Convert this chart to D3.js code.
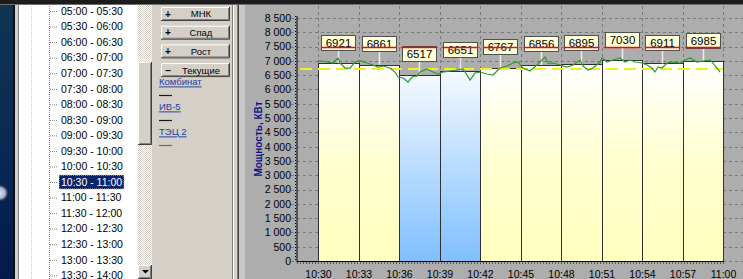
<!DOCTYPE html>
<html>
<head>
<meta charset="UTF-8">
<title>Мощность</title>
<script src="https://d3js.org/d3.v7.min.js"></script>
<style>
  body { margin: 0; background: #d4d0c8; overflow: hidden; }
  svg { display: block; font-family: "Liberation Sans", Arial, sans-serif; }
</style>
</head>
<body>
<div id="screen"></div>
<script>

// --- data ---
var intervals = ["05:00 - 05:30", "05:30 - 06:00", "06:00 - 06:30", "06:30 - 07:00",
  "07:00 - 07:30", "07:30 - 08:00", "08:00 - 08:30", "08:30 - 09:00", "09:00 - 09:30",
  "09:30 - 10:00", "10:00 - 10:30", "10:30 - 11:00", "11:00 - 11:30", "11:30 - 12:00",
  "12:00 - 12:30", "12:30 - 13:00", "13:00 - 13:30", "13:30 - 14:00"];
var selectedInterval = "10:30 - 11:00";

var buttonSigns = ["+", "+", "+", "\u2013"];
var buttonNames = ["МНК", "Спад", "Рост", "Текущие"];
var sources = ["Комбинат", "ИВ-5", "ТЭЦ 2"];
var sourceLines = ["#1a1a1a", "#1a1a1a", "#6a6a6a"];

var barStarts = ["10:30", "10:33", "10:36", "10:39", "10:42", "10:45", "10:48", "10:51", "10:54", "10:57"];
var barValues = [6921, 6861, 6517, 6651, 6767, 6856, 6895, 7030, 6911, 6985];
var planValue = 6720;   // yellow dashed
var limitValue = 7500;  // red
var yMax = 8500;

// current power, minutes after 10:30
var powerMinutes = [0, 0.67, 1.11, 1.48, 1.63, 2.0, 2.37, 2.74, 3.11, 3.63, 4.07, 4.44, 4.81,
  5.33, 5.70, 5.93, 6.30, 6.67, 6.96, 7.33, 7.56, 8.07, 8.52, 8.89, 9.26, 9.78, 10.30, 10.74,
  11.04, 11.26, 11.63, 12.0, 12.52, 12.96, 13.48, 14.0, 14.44, 14.81, 15.19, 15.70, 16.22,
  16.59, 16.81, 17.04, 17.41, 17.93, 18.44, 18.89, 19.41, 19.63, 20.0, 20.37, 20.89, 21.04,
  21.41, 21.85, 22.37, 22.74, 23.11, 23.48, 24.0, 24.37, 24.74, 24.96, 25.19, 25.48, 25.85,
  26.30, 26.81, 27.19, 27.56, 28.07, 28.52, 29.04, 29.26, 29.56, 29.78];
var powerValues = [7010, 6960, 6925, 7100, 6925, 6750, 6750, 6960, 7010, 6925, 6855, 6785, 6820,
  6750, 6610, 6435, 6400, 6260, 6435, 6470, 6610, 6715, 6610, 6540, 6610, 6645, 6680, 6715,
  6505, 6330, 6575, 6610, 6540, 6505, 6750, 6820, 6925, 6960, 6750, 6645, 6855,
  7030, 7135, 6925, 6925, 6855, 6785, 6855, 7030, 6820, 6680, 6750, 6960, 7100,
  6960, 7030, 7100, 6960, 7030, 6960, 6925, 6855, 6750, 6610, 6785, 6750, 6925,
  6960, 6925, 7030, 7100, 6960, 6995, 7030, 6925, 6750, 6610];

var W = 743, H = 279;
var parseTime = d3.timeParse('%H:%M');
var t0 = parseTime('10:30'), t1 = parseTime('11:00');
var addMin = (t, m) => new Date(t.getTime() + m * 60000);

var svg = d3.select('#screen').append('svg').attr('width', W).attr('height', H);
var defs = svg.append('defs');

function vGrad(id, stops) {
  var g = defs.append('linearGradient').attr('id', id)
    .attr('x1', 0).attr('y1', 0).attr('x2', 0).attr('y2', 1);
  stops.forEach((c, i) => g.append('stop').attr('offset', i / (stops.length - 1)).attr('stop-color', c));
}
vGrad('barYellow', ['#ffffff', '#ffffd0', '#ffffc0']);
vGrad('barBlue', ['#f4f9ff', '#b8dcff', '#80bfff']);
vGrad('navy', ['#0f3552', '#0a2a55', '#041a4a']);

var chk = defs.append('pattern').attr('id', 'checker')
  .attr('width', 2).attr('height', 2).attr('patternUnits', 'userSpaceOnUse');
chk.append('rect').attr('width', 2).attr('height', 2).attr('fill', '#ffffff');
chk.append('rect').attr('width', 1).attr('height', 1).attr('fill', '#d4d0c8');
chk.append('rect').attr('x', 1).attr('y', 1).attr('width', 1).attr('height', 1).attr('fill', '#d4d0c8');

var glow = defs.append('radialGradient').attr('id', 'glow');
glow.append('stop').attr('offset', 0).attr('stop-color', '#dfe6ee');
glow.append('stop').attr('offset', 0.6).attr('stop-color', '#9fb0c8');
glow.append('stop').attr('offset', 1).attr('stop-color', '#0a2a55').attr('stop-opacity', 0);

// raised 3D box, windows classic style
function bevel(g, x, y, w, h) {
  g.append('rect').attr('x', x).attr('y', y).attr('width', w).attr('height', h).attr('fill', '#d4d0c8');
  g.append('path').attr('d', `M${x + 0.5},${y + h - 1}V${y + 0.5}H${x + w - 1}`)
    .attr('fill', 'none').attr('stroke', '#ffffff');
  g.append('path').attr('d', `M${x + 1.5},${y + h - 1.5}H${x + w - 1.5}V${y + 1}`)
    .attr('fill', 'none').attr('stroke', '#808080');
  g.append('path').attr('d', `M${x},${y + h - 0.5}H${x + w - 0.5}V${y}`)
    .attr('fill', 'none').attr('stroke', '#404040');
}

// --- left dark strip ---
svg.append('rect').attr('width', 13).attr('height', H).attr('fill', 'url(#navy)');
svg.append('circle').attr('cx', 0).attr('cy', 193).attr('r', 9).attr('fill', 'url(#glow)');
svg.append('rect').attr('x', 13).attr('width', 2).attr('height', H).attr('fill', '#101010');
svg.append('rect').attr('x', 15).attr('width', 3).attr('height', H).attr('fill', '#d4d0c8');
svg.append('rect').attr('x', 18).attr('width', 1).attr('height', H).attr('fill', '#808080');

// --- interval tree ---
var tree = svg.append('g');
tree.append('rect').attr('x', 19).attr('width', 119).attr('height', H).attr('fill', '#ffffff');
tree.append('line').attr('x1', 31.5).attr('x2', 31.5).attr('y1', 0).attr('y2', H)
  .attr('stroke', '#c8c8c8').attr('stroke-dasharray', '1,1');
tree.append('line').attr('x1', 49.5).attr('x2', 49.5).attr('y1', 0).attr('y2', H)
  .attr('stroke', '#808080').attr('stroke-dasharray', '1,1');

var rowY = d3.scaleLinear().domain([0, 1]).range([11, 26.55]);
var rows = tree.selectAll('.row').data(intervals).enter().append('g')
  .attr('transform', (d, i) => `translate(0,${rowY(i)})`);
rows.append('line').attr('x1', 50).attr('x2', 58).attr('y1', 0.5).attr('y2', 0.5)
  .attr('stroke', '#808080').attr('stroke-dasharray', '1,1');
rows.filter(d => d === selectedInterval).append('rect')
  .attr('x', 59).attr('y', -7).attr('width', 65).attr('height', 14)
  .attr('fill', '#0a246a').attr('stroke', '#d4d0c8').attr('stroke-dasharray', '1,1');
rows.append('text').attr('x', 61).attr('dy', '0.36em')
  .style('font-size', '10.5px')
  .attr('fill', d => d === selectedInterval ? '#ffffff' : '#000000')
  .text(d => d);

// scrollbar
svg.append('rect').attr('x', 138).attr('width', 14).attr('height', H).attr('fill', 'url(#checker)');
bevel(svg.append('g'), 138, 62, 14, 83);
var down = svg.append('g');
bevel(down, 138, 265, 14, 14);
down.append('path').attr('d', 'M142,270H149L145.5,273.5Z').attr('fill', '#000');

// --- buttons panel ---
var panel = svg.append('g');
panel.append('rect').attr('x', 152).attr('width', 88).attr('height', H).attr('fill', '#d4d0c8');
panel.append('rect').attr('x', 232).attr('width', 1).attr('height', H).attr('fill', '#808080');
panel.append('rect').attr('x', 233).attr('width', 1).attr('height', H).attr('fill', '#ffffff');
panel.append('rect').attr('x', 237).attr('width', 1).attr('height', H).attr('fill', '#808080');
panel.append('rect').attr('x', 238).attr('width', 1).attr('height', H).attr('fill', '#404040');
panel.append('rect').attr('x', 239).attr('width', 6).attr('height', H).attr('fill', '#c8c8c8');

buttonNames.forEach((name, i) => {
  var by = 7 + i * 18.7;
  var b = panel.append('g');
  bevel(b, 161, by, 69, 14);
  b.append('text').attr('x', 168).attr('y', by + 7).attr('dy', '0.36em')
    .attr('text-anchor', 'middle').style('font-size', '10px').style('font-weight', 'bold')
    .text(buttonSigns[i]);
  b.append('text').attr('x', 201).attr('y', by + 7).attr('dy', '0.36em')
    .attr('text-anchor', 'middle').style('font-size', '9.5px').text(name);
});

sources.forEach((name, i) => {
  var ly = 82 + i * 25;
  panel.append('text').attr('x', 159).attr('y', ly).attr('dy', '0.36em')
    .style('font-size', '9.5px').style('text-decoration', 'underline')
    .attr('fill', '#1f3c9c').text(name);
  panel.append('line').attr('x1', 159).attr('x2', 172).attr('y1', ly + 13.5).attr('y2', ly + 13.5)
    .attr('stroke', sourceLines[i]).attr('stroke-width', 1.2);
});

// --- chart ---
var chart = svg.append('g');
chart.append('rect').attr('x', 245).attr('width', W - 245).attr('height', H).attr('fill', '#adadad');

var x = d3.scaleTime().domain([t0, t1]).range([318, 723]);
var y = d3.scaleLinear().domain([0, yMax]).range([261, 18]);
var axisX = 297;
var xTicks = d3.timeMinute.every(3).range(t0, addMin(t1, 1));
var yTicks = d3.range(0, yMax + 1, 500);

var spaced = d3.formatLocale({ decimal: ',', thousands: ' ', grouping: [3], currency: ['', ''] }).format(',d');

// grid
chart.append('g').selectAll('line').data(yTicks).enter().append('line')
  .attr('x1', 291).attr('x2', W).attr('y1', d => Math.round(y(d)) + 0.5).attr('y2', d => Math.round(y(d)) + 0.5)
  .attr('stroke', '#7a7a7a').attr('stroke-dasharray', '3,3');
chart.append('g').selectAll('line').data(xTicks).enter().append('line')
  .attr('x1', d => Math.round(x(d)) + 0.5).attr('x2', d => Math.round(x(d)) + 0.5)
  .attr('y1', 6).attr('y2', 261)
  .attr('stroke', '#7a7a7a').attr('stroke-dasharray', '3,3');

// bars
var bars = barStarts.map((s, i) => ({ t: parseTime(s), v: barValues[i] }));
chart.append('g').selectAll('rect').data(bars).enter().append('rect')
  .attr('x', d => Math.round(x(d.t)) + 0.5)
  .attr('y', d => Math.round(y(d.v)) + 0.5)
  .attr('width', d => Math.round(x(addMin(d.t, 3))) - Math.round(x(d.t)))
  .attr('height', d => Math.round(y(0)) - Math.round(y(d.v)))
  .attr('fill', d => d.v < planValue ? 'url(#barBlue)' : 'url(#barYellow)')
  .attr('stroke', '#303030');

// plan line
chart.append('line').attr('x1', 300).attr('x2', 723)
  .attr('y1', y(planValue)).attr('y2', y(planValue))
  .attr('stroke', '#f0f020').attr('stroke-width', 2).attr('stroke-dasharray', '12,6');

// connectors from labels to bar tops
chart.append('g').selectAll('line').data(bars).enter().append('line')
  .attr('x1', d => Math.round(x(addMin(d.t, 1.5))) + 0.5).attr('x2', d => Math.round(x(addMin(d.t, 1.5))) + 0.5)
  .attr('y1', d => y(d.v) - 13.5).attr('y2', d => y(d.v))
  .attr('stroke', '#ececec').attr('stroke-width', 1.5);

// current power line
var line = d3.line().x((d, i) => x(addMin(t0, d))).y((d, i) => y(powerValues[i]));
chart.append('path').attr('d', line(powerMinutes))
  .attr('fill', 'none').attr('stroke', '#2e9a2e').attr('stroke-width', 1.2);

// value labels
var lab = chart.append('g').selectAll('g').data(bars).enter().append('g')
  .attr('transform', d => `translate(${Math.round(x(addMin(d.t, 1.5)))},${Math.round(y(d.v) - 28.5)})`);
lab.append('rect').attr('x', -16.5).attr('y', 0.5).attr('width', 34).attr('height', 15)
  .attr('fill', '#ffffd8').attr('stroke', '#505050');
lab.append('text').attr('x', 0.5).attr('y', 8).attr('dy', '0.36em').attr('text-anchor', 'middle')
  .style('font-size', '11.5px').text(d => d.v);

// limit segments
chart.append('g').selectAll('line').data(bars).enter().append('line')
  .attr('x1', d => x(d.t) + 3).attr('x2', d => x(addMin(d.t, 3)) - 3)
  .attr('y1', Math.round(y(limitValue)) + 0.5).attr('y2', Math.round(y(limitValue)) + 0.5)
  .attr('stroke', '#ff0000').attr('stroke-width', 1.5);

// axes
var gx = chart.append('g').attr('transform', `translate(0,261)`)
  .call(d3.axisBottom(x).tickValues(xTicks).tickFormat(d3.timeFormat('%H:%M')).tickSize(0).tickPadding(10));
gx.select('.domain').remove();
gx.selectAll('text').style('font-size', '10.5px').style('font-family', null).attr('fill', '#000');

var gy = chart.append('g').attr('transform', `translate(${axisX},0)`)
  .call(d3.axisLeft(y).tickValues(yTicks).tickFormat(spaced).tickSize(0).tickPadding(6));
gy.select('.domain').remove();
gy.selectAll('text').style('font-size', '10.5px').style('font-family', null).attr('fill', '#000');

// thick axis lines with minor ticks
chart.append('line').attr('x1', axisX).attr('x2', axisX).attr('y1', 16).attr('y2', 262)
  .attr('stroke', '#000').attr('stroke-width', 1);
chart.append('line').attr('x1', axisX - 1.5).attr('x2', axisX - 1.5).attr('y1', 16).attr('y2', 262)
  .attr('stroke', '#000').attr('stroke-width', 1).attr('stroke-dasharray', '1,2');
chart.append('line').attr('x1', axisX).attr('x2', 724).attr('y1', 261.5).attr('y2', 261.5)
  .attr('stroke', '#000').attr('stroke-width', 1);
chart.append('line').attr('x1', axisX).attr('x2', 724).attr('y1', 263).attr('y2', 263)
  .attr('stroke', '#000').attr('stroke-width', 1).attr('stroke-dasharray', '1,2');

chart.append('text').attr('transform', 'translate(258,139) rotate(-90)')
  .attr('text-anchor', 'middle').attr('dy', '0.36em')
  .style('font-size', '10px').style('font-weight', 'bold').attr('fill', '#101088')
  .text('Мощность, КВт');

// top window edge
svg.append('rect').attr('width', W).attr('height', 4).attr('fill', '#1c1c1c');
svg.append('rect').attr('y', 4).attr('width', W).attr('height', 1).attr('fill', '#707070');

</script>
</body>
</html>
